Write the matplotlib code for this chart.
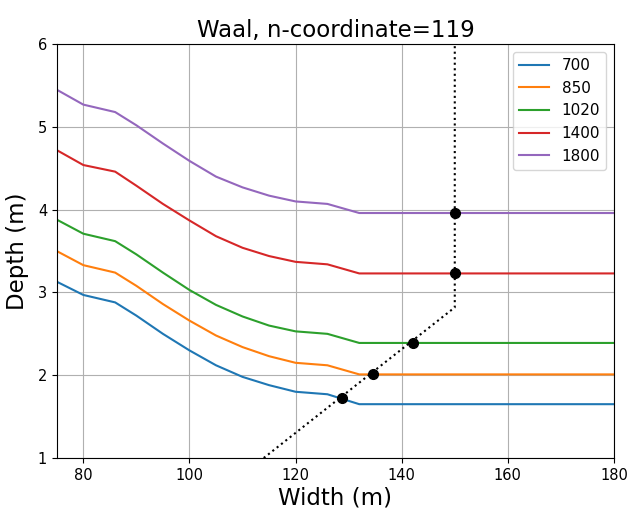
import numpy as np
import matplotlib
matplotlib.use("Agg")
from matplotlib import pyplot as plt

# cross-section depth vs width per discharge
width = [75, 80, 86, 90, 95, 100, 105, 110, 115, 120, 126, 132, 180]
discharges = ["700", "850", "1020", "1400", "1800"]
depth_700 = [3.13, 2.97, 2.88, 2.72, 2.50, 2.30, 2.12, 1.98, 1.88, 1.80, 1.77, 1.65, 1.65]
depth_850 = [3.50, 3.33, 3.24, 3.08, 2.86, 2.66, 2.48, 2.34, 2.23, 2.15, 2.12, 2.01, 2.01]
depth_1020 = [3.88, 3.71, 3.62, 3.46, 3.24, 3.03, 2.85, 2.71, 2.60, 2.53, 2.50, 2.39, 2.39]
depth_1400 = [4.72, 4.54, 4.46, 4.29, 4.07, 3.87, 3.68, 3.54, 3.44, 3.37, 3.34, 3.23, 3.23]
depth_1800 = [5.45, 5.27, 5.18, 5.02, 4.80, 4.59, 4.40, 4.27, 4.17, 4.10, 4.07, 3.96, 3.96]

# limit path and chosen points
path_x = [114, 150, 150]
path_y = [1.0, 2.82, 6.0]
pick_x = [128.8, 134.5, 142.2, 150, 150]
pick_y = [1.73, 2.01, 2.39, 3.23, 3.96]

fig = plt.figure(figsize=(6.31, 5.14), dpi=100)
ax = fig.add_axes([0.090, 0.109, 0.883, 0.805])

for d, label in zip([depth_700, depth_850, depth_1020, depth_1400, depth_1800], discharges):
    ax.plot(width, d, lw=1.5, label=label)

ax.plot(path_x, path_y, ":", color="black", lw=1.5)
ax.plot(pick_x, pick_y, "o", color="black", ms=7)

ax.set_xlim(75, 180)
ax.set_ylim(1, 6)
ax.set_xticks([80, 100, 120, 140, 160, 180])
ax.set_yticks([1, 2, 3, 4, 5, 6])
ax.grid(True)
ax.tick_params(labelsize=10.5)
ax.set_xlabel("Width (m)", fontsize=16.5, labelpad=3)
ax.set_ylabel("Depth (m)", fontsize=16.5, labelpad=6)
ax.set_title("Waal, n-coordinate=119", fontsize=16.5, pad=5)
ax.legend(loc="upper right", fontsize=11)

fig.savefig("out.png", dpi=100)
